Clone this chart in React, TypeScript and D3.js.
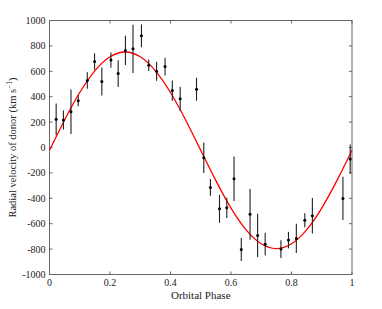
import React, { useEffect, useRef } from "react";
import * as d3 from "d3";

// observed radial velocities (phase, km/s, 1-sigma error)
const phase = [
  0.022, 0.046, 0.071, 0.095, 0.125, 0.149, 0.173, 0.203, 0.227, 0.251, 0.276,
  0.304, 0.328, 0.354, 0.382, 0.406, 0.432, 0.486, 0.51, 0.532, 0.562, 0.586,
  0.61, 0.634, 0.663, 0.688, 0.713, 0.765, 0.79, 0.816, 0.844, 0.869, 0.97,
  0.994,
];
const velocity = [
  222, 217, 282, 369, 527, 677, 519, 688, 582, 764, 777, 879, 648, 601, 637,
  448, 383, 459, -80, -314, -483, -475, -246, -803, -526, -692, -761, -800,
  -729, -716, -572, -538, -401, -91,
];
const error = [
  125, 75, 175, 45, 65, 65, 110, 60, 105, 115, 190, 90, 45, 75, 70, 80, 95, 90,
  120, 65, 110, 80, 175, 90, 200, 170, 90, 70, 65, 115, 55, 140, 170, 115,
];

// fitted model curve
const modelPhase = [
  0, 0.05, 0.1, 0.15, 0.2, 0.25, 0.3, 0.35, 0.4, 0.45, 0.5, 0.55, 0.6, 0.65,
  0.7, 0.75, 0.8, 0.85, 0.9, 0.95, 1,
];
const modelVelocity = [
  -22, 217, 433, 604, 714, 752, 714, 604, 433, 217, -22, -261, -477, -648,
  -758, -796, -758, -648, -477, -261, -22,
];

const xTicks = [0, 0.2, 0.4, 0.6, 0.8, 1];
const yTicks = [-1000, -800, -600, -400, -200, 0, 200, 400, 600, 800, 1000];

const App = () => {
  const svgRef = useRef(null);

  useEffect(() => {
    const svg = d3.select(svgRef.current);
    svg.selectAll("*").remove();

    const left = 49.5,
      right = 352,
      top = 20.5,
      bottom = 274.5;

    const x = d3.scaleLinear().domain([0, 1]).range([left, right]);
    const y = d3.scaleLinear().domain([-1000, 1000]).range([bottom, top]);

    const font = "'Liberation Serif', 'DejaVu Serif', serif";

    // box
    svg
      .append("rect")
      .attr("x", left)
      .attr("y", top)
      .attr("width", right - left)
      .attr("height", bottom - top)
      .attr("fill", "white")
      .attr("stroke", "#666")
      .attr("stroke-width", 1);

    // ticks (inward on all four sides)
    const tk = 3;
    xTicks.forEach((t) => {
      svg
        .append("line")
        .attr("x1", x(t))
        .attr("x2", x(t))
        .attr("y1", bottom)
        .attr("y2", bottom - tk)
        .attr("stroke", "#666");
      svg
        .append("line")
        .attr("x1", x(t))
        .attr("x2", x(t))
        .attr("y1", top)
        .attr("y2", top + tk)
        .attr("stroke", "#666");
      svg
        .append("text")
        .attr("x", x(t))
        .attr("y", bottom + 11.5)
        .attr("text-anchor", "middle")
        .attr("font-family", font)
        .attr("font-size", 10)
        .attr("fill", "#222")
        .text(String(t));
    });
    yTicks.forEach((t) => {
      svg
        .append("line")
        .attr("x1", left)
        .attr("x2", left + tk)
        .attr("y1", y(t))
        .attr("y2", y(t))
        .attr("stroke", "#666");
      svg
        .append("line")
        .attr("x1", right)
        .attr("x2", right - tk)
        .attr("y1", y(t))
        .attr("y2", y(t))
        .attr("stroke", "#666");
      svg
        .append("text")
        .attr("x", left - 4)
        .attr("y", y(t) + 3.5)
        .attr("text-anchor", "end")
        .attr("font-family", font)
        .attr("font-size", 10)
        .attr("fill", "#222")
        .text(String(t));
    });

    // model curve
    const line = d3
      .line()
      .x((d) => x(d[0]))
      .y((d) => y(d[1]))
      .curve(d3.curveNatural);
    svg
      .append("path")
      .datum(modelPhase.map((p, i) => [p, modelVelocity[i]]))
      .attr("fill", "none")
      .attr("stroke", "#ff0000")
      .attr("stroke-width", 1.3)
      .attr("d", line);

    // error bars and points
    const pts = phase.map((p, i) => ({ p, v: velocity[i], e: error[i] }));
    const g = svg.append("g");
    g.selectAll("line.err")
      .data(pts)
      .join("line")
      .attr("class", "err")
      .attr("x1", (d) => x(d.p))
      .attr("x2", (d) => x(d.p))
      .attr("y1", (d) => y(d.v - d.e))
      .attr("y2", (d) => y(d.v + d.e))
      .attr("stroke", "#222")
      .attr("stroke-width", 1.1);
    g.selectAll("circle")
      .data(pts)
      .join("circle")
      .attr("cx", (d) => x(d.p))
      .attr("cy", (d) => y(d.v))
      .attr("r", 1.5)
      .attr("fill", "#000");

    // axis labels
    svg
      .append("text")
      .attr("x", (left + right) / 2)
      .attr("y", 299)
      .attr("text-anchor", "middle")
      .attr("font-family", font)
      .attr("font-size", 11)
      .attr("fill", "#222")
      .text("Orbital Phase");

    const yl = svg
      .append("text")
      .attr("transform", `translate(16, ${(top + bottom) / 2}) rotate(-90)`)
      .attr("text-anchor", "middle")
      .attr("font-family", font)
      .attr("font-size", 10.5)
      .attr("fill", "#222");
    yl.append("tspan").text("Radial velocity of donor (km s");
    yl.append("tspan").attr("dy", -4).attr("font-size", 7.5).text("\u22121");
    yl.append("tspan").attr("dy", 4).text(")");
  }, []);

  return (
    <div style={{ width: "100%", height: "100%" }}>
      <svg
        ref={svgRef}
        width={382}
        height={309}
        style={{ position: "absolute", left: 0, top: 0, background: "white" }}
      ></svg>
    </div>
  );
};

export default App;
